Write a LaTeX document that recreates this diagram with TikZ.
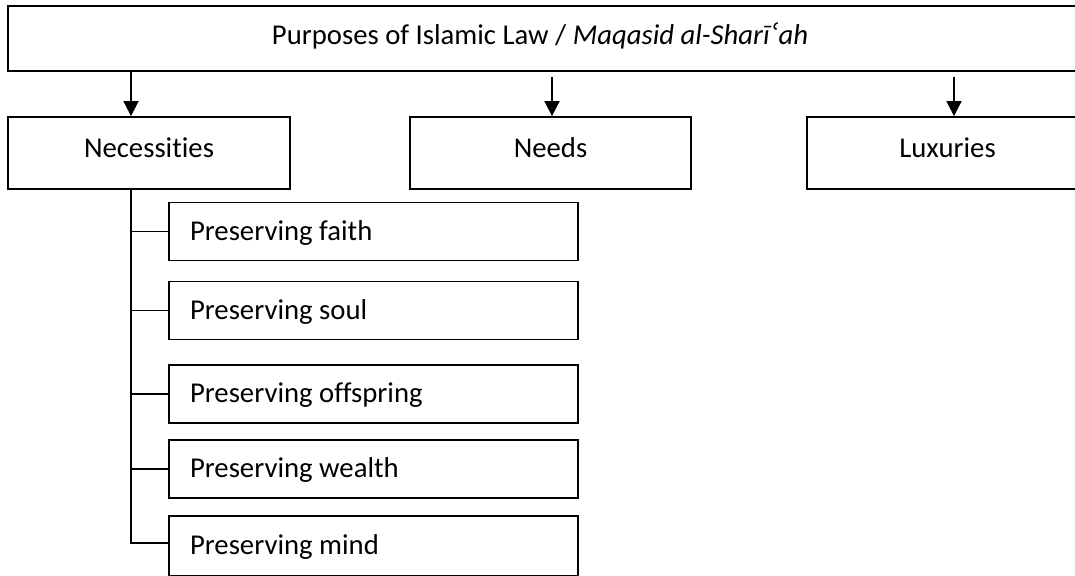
\documentclass[tikz,border=0pt]{standalone}
\usepackage{fontspec}
\setmainfont{Carlito}[Ligatures={NoCommon}]
\newfontfamily\dejavu{DejaVu Sans}
\usetikzlibrary{arrows.meta}
\begin{document}
\begin{tikzpicture}[x=1pt,y=-1pt,
  lbl/.style={font=\fontsize{28.7}{34}\selectfont},
  box/.style={draw=black, line width=1.8pt, rectangle, inner sep=0pt, lbl},
  topbox/.style={box, minimum width=281pt, minimum height=72pt, text height=20pt, text depth=12pt},
  subbox/.style={box, minimum width=409pt, minimum height=58pt, text width=367pt, inner xsep=21pt, align=flush left, text height=20pt, text depth=3pt},
  arr/.style={line width=1.8pt, -{Triangle[length=15pt,width=15pt]}},
  conn/.style={line width=1.8pt}]
\useasboundingbox (0,0) rectangle (1075,575);
\clip (0,0) rectangle (1075,575);
% title
\node[box, minimum width=1082pt, minimum height=65pt] (title) at (549,38.5) {};
\node[lbl, anchor=base] (titletext) at (540,45) {Purposes of Islamic Law / \textit{Maqasid al-Sharī{\dejavu\itshape ʿ}ah}};
% level 1
\node[topbox, minimum width=282pt] (nec) at (149,153) {Necessities};
\node[topbox] (needs) at (550.5,153) {Needs};
\node[topbox] (lux) at (947.5,153) {Luxuries};
% helper coordinate for the spine x position
\coordinate (sp) at (131,0);
% arrows
\draw[arr] (title.south -| sp) -- (nec.north -| sp);
\draw[arr] ([xshift=1.5pt,yshift=-5pt]title.south -| needs.north) -- ([xshift=1.5pt]needs.north);
\draw[arr] ([xshift=6.5pt,yshift=-5pt]title.south -| lux.north) -- ([xshift=6.5pt]lux.north);
% sub boxes
\node[subbox] (faith) at (373.5,231.5) {Preserving faith};
\node[subbox] (soul) at (373.5,310.5) {Preserving soul};
\node[subbox] (off) at (373.5,394) {Preserving offspring};
\node[subbox] (wealth) at (373.5,469) {Preserving wealth};
\node[subbox, minimum height=60pt] (mind) at (373.5,546) {Preserving mind};
% connectors
\draw[conn] (nec.south -| sp) |- ([yshift=3pt]mind.west);
\draw[conn] (faith.west) -- (faith.west -| sp);
\draw[conn] (soul.west) -- (soul.west -| sp);
\draw[conn] (off.west) -- (off.west -| sp);
\draw[conn] (wealth.west) -- (wealth.west -| sp);
\end{tikzpicture}
\end{document}
